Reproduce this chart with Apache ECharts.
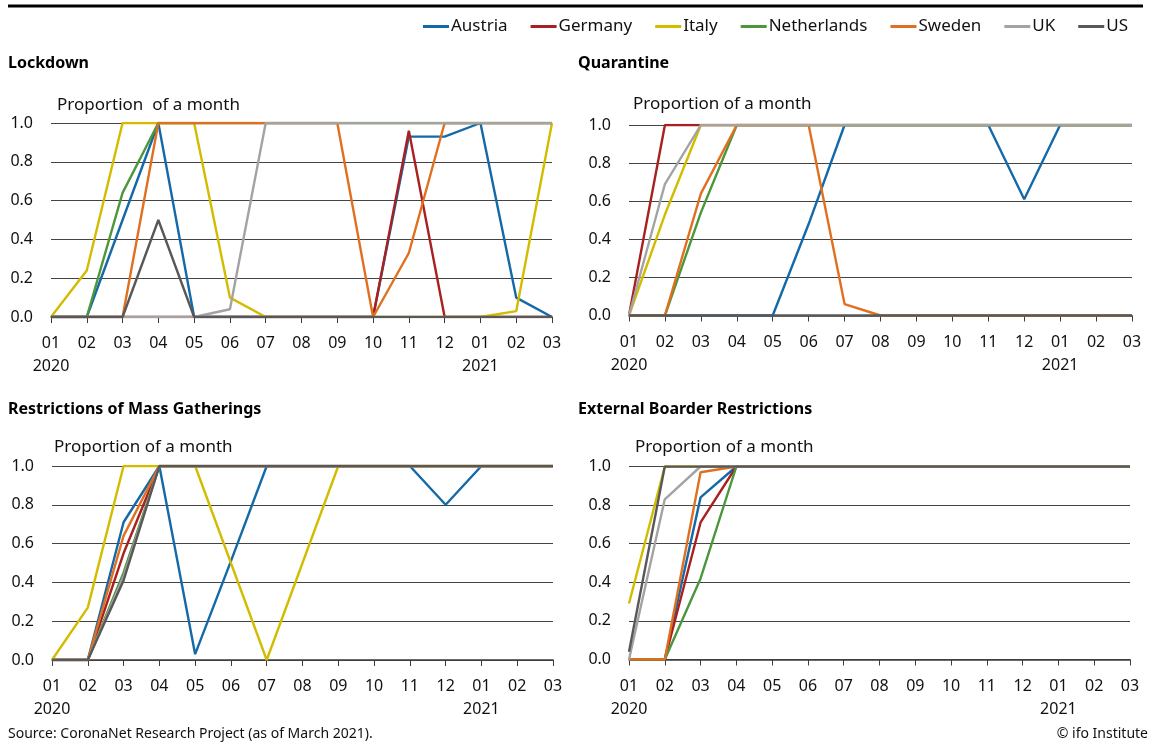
<!DOCTYPE html>
<html>
<head>
<meta charset="utf-8">
<style>
  html, body { margin: 0; padding: 0; background: #fff; }
  #chart { width: 1151px; height: 742px; }
</style>
<script src="https://cdn.jsdelivr.net/npm/echarts@6/dist/echarts.min.js"></script>
</head>
<body>
<div id="chart"></div>
<script>
// Months from January 2020 to March 2021
const months = ['01','02','03','04','05','06','07','08','09','10','11','12','01','02','03'];
const yearLabels = { 0: '2020', 12: '2021' };
const countries = ['Austria', 'Germany', 'Italy', 'Netherlands', 'Sweden', 'UK', 'US'];
const countryColors = ['#1469a8', '#a8201f', '#d3bc00', '#4c963b', '#e07020', '#a3a3a3', '#585858'];

// Lockdown (share of each month)
const lockdownAustria     = [0, 0, 0.5, 1, 0, 0, 0, 0, 0, 0, 0.93, 0.93, 1, 0.1, 0];
const lockdownGermany     = [0, 0, 0, 0, 0, 0, 0, 0, 0, 0, 0.96, 0, 0, 0, 0];
const lockdownItaly       = [0, 0.24, 1, 1, 1, 0.1, 0, 0, 0, 0, 0, 0, 0, 0.03, 1];
const lockdownNetherlands = [0, 0, 0.64, 1, 1, 1, 1, 1, 1, 1, 1, 1, 1, 1, 1];
const lockdownSweden      = [0, 0, 0, 1, 1, 1, 1, 1, 1, 0, 0.33, 1, 1, 1, 1];
const lockdownUK          = [0, 0, 0, 0, 0, 0.04, 1, 1, 1, 1, 1, 1, 1, 1, 1];
const lockdownUS          = [0, 0, 0, 0.5, 0, 0, 0, 0, 0, 0, 0, 0, 0, 0, 0];

// Quarantine
const quarantineAustria     = [0, 0, 0, 0, 0, 0.48, 1, 1, 1, 1, 1, 0.61, 1, 1, 1];
const quarantineGermany     = [0, 1, 1, 1, 1, 1, 1, 1, 1, 1, 1, 1, 1, 1, 1];
const quarantineItaly       = [0, 0.53, 1, 1, 1, 1, 1, 1, 1, 1, 1, 1, 1, 1, 1];
const quarantineNetherlands = [0, 0, 0.54, 1, 1, 1, 1, 1, 1, 1, 1, 1, 1, 1, 1];
const quarantineSweden      = [0, 0, 0.64, 1, 1, 1, 0.06, 0, 0, 0, 0, 0, 0, 0, 0];
const quarantineUK          = [0, 0.69, 1, 1, 1, 1, 1, 1, 1, 1, 1, 1, 1, 1, 1];
const quarantineUS          = [0, 0, 0, 0, 0, 0, 0, 0, 0, 0, 0, 0, 0, 0, 0];

// Restrictions of mass gatherings
const gatheringsAustria     = [0, 0, 0.71, 1, 0.03, 0.51, 1, 1, 1, 1, 1, 0.8, 1, 1, 1];
const gatheringsGermany     = [0, 0, 0.55, 1, 1, 1, 1, 1, 1, 1, 1, 1, 1, 1, 1];
const gatheringsItaly       = [0, 0.27, 1, 1, 1, 0.5, 0, 0.5, 1, 1, 1, 1, 1, 1, 1];
const gatheringsNetherlands = [0, 0, 0.45, 1, 1, 1, 1, 1, 1, 1, 1, 1, 1, 1, 1];
const gatheringsSweden      = [0, 0, 0.64, 1, 1, 1, 1, 1, 1, 1, 1, 1, 1, 1, 1];
const gatheringsUK          = [0, 0, 0.43, 1, 1, 1, 1, 1, 1, 1, 1, 1, 1, 1, 1];
const gatheringsUS          = [0, 0, 0.41, 1, 1, 1, 1, 1, 1, 1, 1, 1, 1, 1, 1];

// External border restrictions
const borderAustria     = [0, 0, 0.84, 1, 1, 1, 1, 1, 1, 1, 1, 1, 1, 1, 1];
const borderGermany     = [0, 0, 0.71, 1, 1, 1, 1, 1, 1, 1, 1, 1, 1, 1, 1];
const borderItaly       = [0.29, 1, 1, 1, 1, 1, 1, 1, 1, 1, 1, 1, 1, 1, 1];
const borderNetherlands = [0, 0, 0.42, 1, 1, 1, 1, 1, 1, 1, 1, 1, 1, 1, 1];
const borderSweden      = [0, 0, 0.97, 1, 1, 1, 1, 1, 1, 1, 1, 1, 1, 1, 1];
const borderUK          = [0, 0.83, 1, 1, 1, 1, 1, 1, 1, 1, 1, 1, 1, 1, 1];
const borderUS          = [0.04, 1, 1, 1, 1, 1, 1, 1, 1, 1, 1, 1, 1, 1, 1];

const panelTitles = ['Lockdown', 'Quarantine', 'Restrictions of Mass Gatherings', 'External Boarder Restrictions'];
const panelUnits = ['Proportion  of a month', 'Proportion of a month', 'Proportion of a month', 'Proportion of a month'];
const panelData = [
  [lockdownAustria, lockdownGermany, lockdownItaly, lockdownNetherlands, lockdownSweden, lockdownUK, lockdownUS],
  [quarantineAustria, quarantineGermany, quarantineItaly, quarantineNetherlands, quarantineSweden, quarantineUK, quarantineUS],
  [gatheringsAustria, gatheringsGermany, gatheringsItaly, gatheringsNetherlands, gatheringsSweden, gatheringsUK, gatheringsUS],
  [borderAustria, borderGermany, borderItaly, borderNetherlands, borderSweden, borderUK, borderUS]
];
const yTicks = [0, 0.2, 0.4, 0.6, 0.8, 1.0];

const FONT = 'Noto Sans';

// Panel placement
const grids = [
  { left: 51, top: 123, width: 501, height: 194 },
  { left: 629, top: 125, width: 503, height: 190.5 },
  { left: 52, top: 466, width: 501, height: 194 },
  { left: 629, top: 466.5, width: 501, height: 193 }
];
const titlePos = [
  { left: 8, top: 55 }, { left: 578, top: 55 }, { left: 8, top: 401 }, { left: 578, top: 401 }
];
const unitPos = [
  { left: 57, top: 97 }, { left: 633, top: 96 }, { left: 54, top: 439 }, { left: 635, top: 439 }
];

const titles = [];
panelTitles.forEach((t, i) => {
  titles.push({ text: t, left: titlePos[i].left, top: titlePos[i].top, padding: 0,
    textStyle: { fontFamily: FONT, fontSize: 16, fontWeight: 'bold', color: '#000' } });
  titles.push({ text: panelUnits[i], left: unitPos[i].left, top: unitPos[i].top, padding: 0,
    textStyle: { fontFamily: FONT, fontSize: 17, fontWeight: 'normal', color: '#111' } });
});
titles.push({ text: 'Source: CoronaNet Research Project (as of March 2021).', left: 8, top: 727, padding: 0,
  textStyle: { fontFamily: FONT, fontSize: 14, fontWeight: 'normal', color: '#111' } });
titles.push({ text: '© ifo Institute', right: 3, top: 727, padding: 0,
  textStyle: { fontFamily: FONT, fontSize: 14, fontWeight: 'normal', color: '#111' } });

const xAxes = grids.map((g, i) => ({
  type: 'category', gridIndex: i, data: months, boundaryGap: false,
  axisLine: { lineStyle: { color: '#3c3c3c', width: 1.5 } },
  axisTick: { show: true, length: 6, interval: 0, lineStyle: { color: '#3c3c3c', width: 1 } },
  axisLabel: {
    interval: 0, margin: 15, fontFamily: FONT, fontSize: 16, color: '#111', lineHeight: 23,
    formatter: (v, idx) => yearLabels[idx] ? v + '\n' + yearLabels[idx] : v
  },
  splitLine: { show: false }
}));

const yAxes = grids.map((g, i) => ({
  type: 'value', gridIndex: i, min: 0, max: 1, interval: 0.2,
  axisLine: { show: false }, axisTick: { show: false },
  axisLabel: { margin: 18, fontFamily: FONT, fontSize: 16, color: '#111',
    formatter: v => yTicks.includes(Math.round(v * 10) / 10) ? v.toFixed(1) : '' },
  splitLine: { show: true, lineStyle: { color: '#444', width: 1 } }
}));

const series = [];
panelData.forEach((rows, p) => {
  rows.forEach((vals, c) => {
    series.push({
      name: countries[c], type: 'line', xAxisIndex: p, yAxisIndex: p,
      data: vals, symbol: 'none', smooth: false,
      lineStyle: { color: countryColors[c], width: 2.4 },
      itemStyle: { color: countryColors[c] },
      emphasis: { disabled: true }, animation: false
    });
  });
});

const chart = echarts.init(document.getElementById('chart'), null, { renderer: 'canvas' });
chart.setOption({
  backgroundColor: '#fff',
  animation: false,
  title: titles,
  legend: {
    data: countries, right: 18, top: 13, itemWidth: 26, itemHeight: 3, itemGap: 23,
    icon: 'rect', selectedMode: false,
    textStyle: { fontFamily: FONT, fontSize: 17, color: '#111', padding: [0, 0, 0, -3] }
  },
  graphic: [{
    type: 'line', shape: { x1: 8, y1: 6, x2: 1143, y2: 6 },
    style: { stroke: '#000', lineWidth: 3 }
  }],
  grid: grids.map(g => Object.assign({ containLabel: false }, g)),
  xAxis: xAxes,
  yAxis: yAxes,
  series: series
});
</script>
</body>
</html>
